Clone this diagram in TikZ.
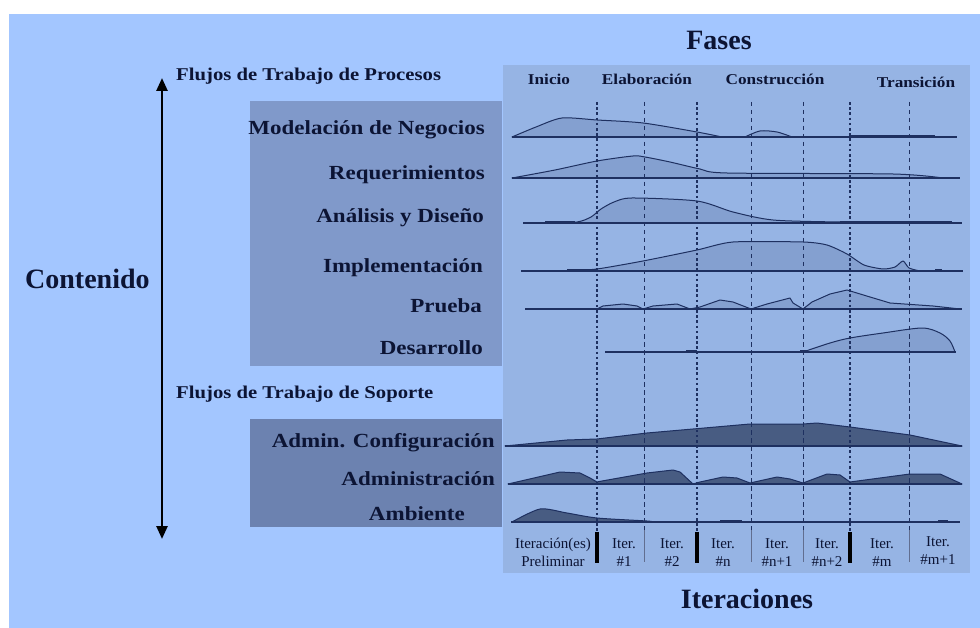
\documentclass[tikz,border=0pt]{standalone}
\usepackage{fontspec}
\setmainfont{Liberation Serif}
\newfontfamily\widefont{Liberation Serif}[FakeStretch=1.15]
\usetikzlibrary{arrows.meta}

\definecolor{bgblue}{RGB}{163,198,255}
\definecolor{panelblue}{RGB}{150,180,228}
\definecolor{procbox}{RGB}{128,153,202}
\definecolor{suppbox}{RGB}{108,130,176}
\definecolor{procfill}{RGB}{132,160,208}
\definecolor{suppfill}{RGB}{72,92,130}
\definecolor{navy}{RGB}{30,48,96}
\definecolor{inkblue}{RGB}{12,20,52}

\begin{document}
\begin{tikzpicture}[x=1pt,y=-1pt,
  txt/.style={inner sep=0pt, text=inkblue},
  big/.style={txt, font=\fontsize{28}{30}\selectfont\bfseries},
  flow/.style={txt, font=\widefont\fontsize{18}{20}\selectfont\bfseries},
  wf/.style={txt, font=\widefont\fontsize{20}{22}\selectfont\bfseries, anchor=base east},
  phase/.style={txt, font=\widefont\fontsize{15}{17}\selectfont\bfseries, anchor=base},
  iter/.style={txt, font=\fontsize{15}{18}\selectfont, align=center, anchor=base},
  baseln/.style={draw=navy, line width=1.6pt},
  thickseg/.style={draw=navy, line width=3pt},
  proc/.style={fill=procfill, draw=navy, line width=1pt, line join=round},
  supp/.style={fill=suppfill, draw=navy, line width=1pt, line join=round},
  phasebd/.style={draw=navy, line width=2.4pt, dash pattern=on 2.6pt off 2.6pt},
  iterbd/.style={draw=navy, line width=0.9pt, dash pattern=on 4.5pt off 3.5pt},
  phasebar/.style={draw=black, line width=4pt},
  iterbar/.style={draw=navy!70, line width=0.9pt}
]
\useasboundingbox (0,0) rectangle (980,628);
\fill[white] (0,0) rectangle (980,628);
\fill[bgblue] (9,14) rectangle (980,628);

% chart panel and label boxes
\fill[panelblue] (503,65) rectangle (970,573);
\fill[procbox] (250,101) rectangle (502,366);
\fill[suppbox] (250,419) rectangle (502,527);

% titles
\node[big, anchor=base] (fases) at (719,50) {Fases};
\node[big, anchor=base] (iteraciones) at (747,608) {Iteraciones};
\node[big, anchor=base west] (contenido) at (25,289) {Contenido};

% content axis
\coordinate (axtop) at (162,78);
\coordinate (axbot) at (162,539);
\draw[line width=2.6pt, {Triangle[width=11pt,length=13pt]}-{Triangle[width=11pt,length=13pt]}] (axtop) -- (axbot);

% group headings
\node[flow, anchor=base west] (fproc) at (176,81) {Flujos de Trabajo de Procesos};
\node[flow, anchor=base west] (fsop) at (176,398) {Flujos de Trabajo de Soporte};

% workflow labels
\node[wf] (wmod) at (485,135) {Modelación de Negocios};
\node[wf] (wreq) at (485,180) {Requerimientos};
\node[wf] (wana) at (484,223) {Análisis y Diseño};
\node[wf] (wimp) at (483,273) {Implementación};
\node[wf] (wpru) at (482,313) {Prueba};
\node[wf] (wdes) at (483,354) {Desarrollo};
\node[wf] (wcfg) at (495,447) {Admin. Configuración};
\node[wf] (wadm) at (495,485) {Administración};
\node[wf] (wamb) at (465,520) {Ambiente};

% phase labels
\node[phase] (pini) at (549,85) {Inicio};
\node[phase] (pela) at (647,85) {Elaboración};
\node[phase] (pcon) at (775,85) {Construcción};
\node[phase] (ptra) at (916,88) {Transición};

% effort curves: process workflows
\filldraw[proc] plot[smooth,tension=0.45] coordinates {(512,137) (536,127) (562,118) (597,120) (643,123) (697,132) (722,137)} -- cycle;
\filldraw[proc] plot[smooth,tension=0.5] coordinates {(745,137) (760,131) (777,132) (792,137)} -- cycle;
\filldraw[proc] plot[smooth,tension=0.45] coordinates {(512,178) (555,170) (597,161) (633,156) (645,157) (670,162) (700,169) (727,173) (893,174) (943,178)} -- cycle;
\filldraw[proc] plot[smooth,tension=0.45] coordinates {(547,223) (577,222) (591,217) (601,209) (614,202) (632,198) (697,201) (733,212) (773,220) (840,222) (950,223)} -- cycle;
\filldraw[proc] plot[smooth,tension=0.4] coordinates {(567,271) (597,269) (643,261) (697,250) (733,242) (803,242) (827,245) (847,254) (864,265) (883,269) (895,267) (903,261) (909,268) (920,271)} -- cycle;
\filldraw[proc] (597,309) -- (603,306) -- (623,304) -- (637,306) -- (643,309) -- (653,306) -- (677,304) -- (690,309) -- (700,307) -- (720,300) -- (733,302) -- (751,309) -- (767,304) -- (790,298) -- (793,303) -- (803,309) -- (812,302) -- (830,294) -- (847,290) -- (870,297) -- (890,303) -- (933,306) -- (960,309) -- cycle;
\filldraw[proc] plot[smooth,tension=0.5] coordinates {(803,352) (830,343) (850,338) (883,333) (922,328) (940,333) (950,341) (955,352)} -- cycle;

% effort curves: supporting workflows
\filldraw[supp] (505,446) -- (567,440) -- (597,439) -- (647,433) -- (693,429) -- (750,424) -- (803,424) -- (817,423) -- (850,427) -- (910,435) -- (962,446) -- cycle;
\filldraw[supp] (508,484) -- (560,472) -- (580,473) -- (590,478) -- (597,482) -- (602,481) -- (647,473) -- (673,470) -- (680,472) -- (693,484) -- (700,482) -- (723,477) -- (737,478) -- (750,483) -- (777,477) -- (790,479) -- (803,483) -- (827,474) -- (840,475) -- (850,482) -- (880,478) -- (910,474) -- (940,474) -- (962,484) -- cycle;
\filldraw[supp] plot[smooth,tension=0.45] coordinates {(512,522) (540,509) (567,513) (597,518) (647,521) (653,522)} -- cycle;

% baselines
\draw[baseln] (512,137) -- (957,137);
\draw[baseln] (512,178) -- (960,178);
\draw[baseln] (523,223) -- (962,223);
\draw[baseln] (521,271) -- (963,271);
\draw[baseln] (525,309) -- (962,309);
\draw[baseln] (605,352) -- (956,352);
\draw[baseln] (505,446) -- (962,446);
\draw[baseln] (508,484) -- (962,484);
\draw[baseln] (511,522) -- (960,522);
\draw[thickseg] (850,136.5) -- (935,136.5);
\draw[thickseg] (545,222.5) -- (575,222.5);
\draw[thickseg] (840,222.5) -- (952,222.5);
\draw[thickseg] (567,270.5) -- (597,270.5);
\draw[thickseg] (935,270.5) -- (942,270.5);
\draw[thickseg] (686,351.5) -- (697,351.5);
\draw[thickseg] (800,351.5) -- (808,351.5);
\draw[thickseg] (720,521.5) -- (742,521.5);
\draw[thickseg] (938,521.5) -- (948,521.5);

% phase and iteration boundaries
\foreach \x in {597,697,850} \draw[phasebd] (\x,102) -- (\x,531);
\foreach \x in {644,751,803,909} \draw[iterbd] (\x,102) -- (\x,531);
\foreach \x in {597,697,850} \draw[phasebar] (\x,532) -- (\x,563);
\foreach \x in {644,751,803,909} \draw[iterbar] (\x,530) -- (\x,562);

% iteration labels
\node[iter] (i0) at (553,566) {Iteración(es)\\Preliminar};
\node[iter] (i1) at (624,566) {Iter.\\\#1};
\node[iter] (i2) at (672,566) {Iter.\\\#2};
\node[iter] (i3) at (723,566) {Iter.\\\#n};
\node[iter] (i4) at (777,566) {Iter.\\\#n+1};
\node[iter] (i5) at (827,566) {Iter.\\\#n+2};
\node[iter] (i6) at (882,566) {Iter.\\\#m};
\node[iter] (i7) at (938,564) {Iter.\\\#m+1};
\end{tikzpicture}
\end{document}
